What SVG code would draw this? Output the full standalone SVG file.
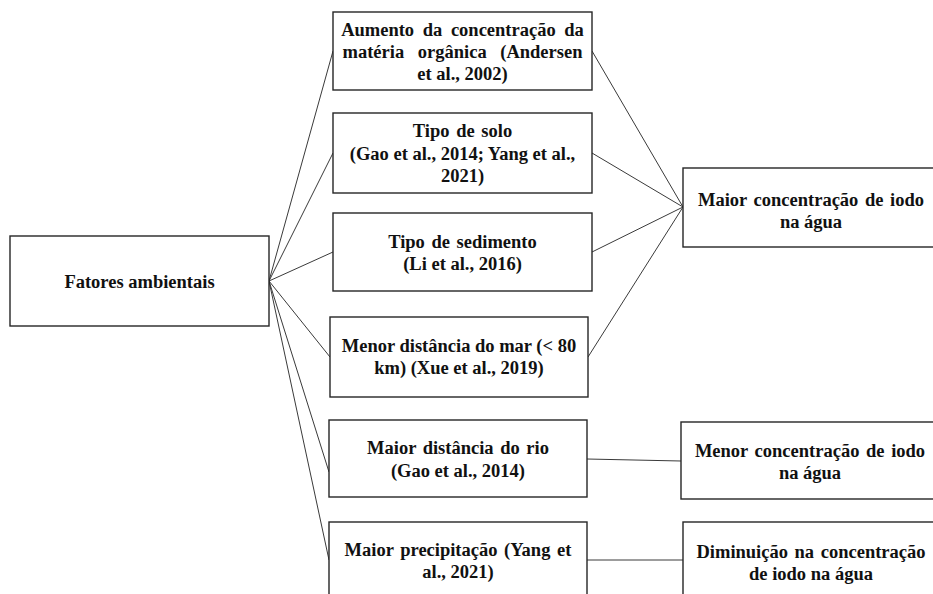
<svg xmlns="http://www.w3.org/2000/svg" width="933" height="594" viewBox="0 0 933 594">
<style>
.box{fill:#ffffff;stroke:#262626;stroke-width:1.4}
.t{font-family:'Liberation Serif','DejaVu Serif',serif;font-weight:700;font-size:18.5px;fill:#111;text-anchor:middle}
.c{stroke:#3a3a3a;stroke-width:1;fill:none}
</style>
<rect x="0" y="0" width="933" height="594" fill="#ffffff"/>
<g id="connectors">
<line class="c" x1="269" y1="281" x2="333" y2="51"/>
<line class="c" x1="269" y1="281" x2="333" y2="153"/>
<line class="c" x1="269" y1="281" x2="333" y2="252"/>
<line class="c" x1="269" y1="281" x2="330" y2="357"/>
<line class="c" x1="269" y1="281" x2="329" y2="472"/>
<line class="c" x1="269" y1="281" x2="329" y2="560"/>
<line class="c" x1="592" y1="51" x2="683" y2="207"/>
<line class="c" x1="592" y1="153" x2="683" y2="207"/>
<line class="c" x1="592" y1="252" x2="683" y2="207"/>
<line class="c" x1="588" y1="357" x2="683" y2="207"/>
<line class="c" x1="587" y1="459" x2="681" y2="461"/>
<line class="c" x1="587" y1="560" x2="683" y2="560"/>
</g>
<g id="fatores">
<rect class="box" x="10" y="236" width="259" height="90"/>
<text class="t" font-family="Liberation Serif, serif" x="139.5" y="288">Fatores ambientais</text>
</g>
<g id="materia">
<rect class="box" x="333" y="12" width="259" height="78"/>
<text class="t" x="462.5" y="36" word-spacing="4">Aumento da concentração da</text>
<text class="t" x="462.5" y="58" word-spacing="9">matéria orgânica (Andersen</text>
<text class="t" x="462.5" y="80">et al., 2002)</text>
</g>
<g id="solo">
<rect class="box" x="333" y="113" width="259" height="80"/>
<text class="t" x="462.5" y="137" word-spacing="2">Tipo de solo</text>
<text class="t" x="462.5" y="160">(Gao et al., 2014; Yang et al.,</text>
<text class="t" x="462.5" y="182">2021)</text>
</g>
<g id="sedimento">
<rect class="box" x="333" y="213" width="259" height="78"/>
<text class="t" x="462.5" y="248" word-spacing="2">Tipo de sedimento</text>
<text class="t" x="462.5" y="270">(Li et al., 2016)</text>
</g>
<g id="mar">
<rect class="box" x="330" y="317" width="258" height="80"/>
<text class="t" x="459" y="352">Menor distância do mar (&lt; 80</text>
<text class="t" x="459" y="374">km) (Xue et al., 2019)</text>
</g>
<g id="rio">
<rect class="box" x="329" y="420" width="258" height="77"/>
<text class="t" x="458" y="454" word-spacing="2">Maior distância do rio</text>
<text class="t" x="458" y="477">(Gao et al., 2014)</text>
</g>
<g id="precipitacao">
<rect class="box" x="329" y="522" width="258" height="90"/>
<text class="t" x="458" y="556" word-spacing="2">Maior precipitação (Yang et</text>
<text class="t" x="458" y="578">al., 2021)</text>
</g>
<g id="maior">
<rect class="box" x="683" y="168" width="256" height="79"/>
<text class="t" x="811" y="206" word-spacing="2">Maior concentração de iodo</text>
<text class="t" x="811" y="228">na água</text>
</g>
<g id="menor">
<rect class="box" x="681" y="422" width="258" height="77"/>
<text class="t" x="810" y="457" word-spacing="2">Menor concentração de iodo</text>
<text class="t" x="810" y="479">na água</text>
</g>
<g id="diminuicao">
<rect class="box" x="683" y="522" width="256" height="90"/>
<text class="t" x="811" y="558" word-spacing="2">Diminuição na concentração</text>
<text class="t" x="811" y="580">de iodo na água</text>
</g>
</svg>
